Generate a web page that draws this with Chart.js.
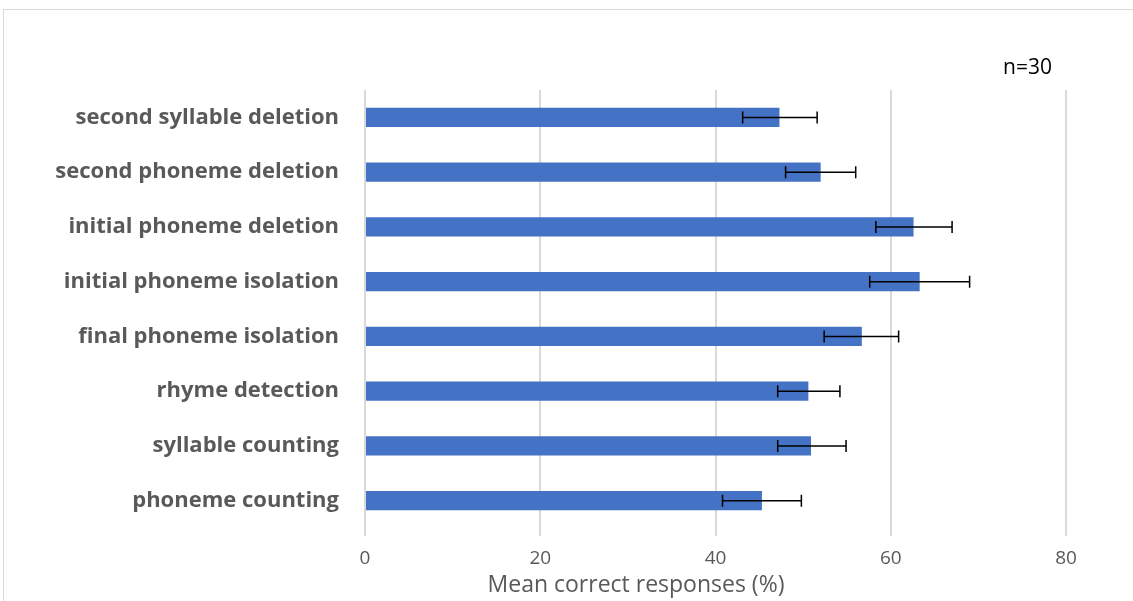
<!DOCTYPE html>
<html>
<head>
<meta charset="utf-8">
<script src="https://cdn.jsdelivr.net/npm/chart.js@4/dist/chart.umd.min.js"></script>
<style>
  html, body { margin: 0; padding: 0; background: #fff; }
  #wrap { width: 1133px; height: 601px; position: relative; }
</style>
</head>
<body>
<div id="wrap"><canvas id="c" width="1133" height="601"></canvas></div>
<script>
// Phonological awareness tasks, mean % correct with error bars
const categories = [
  'second syllable deletion',
  'second phoneme deletion',
  'initial phoneme deletion',
  'initial phoneme isolation',
  'final phoneme isolation',
  'rhyme detection',
  'syllable counting',
  'phoneme counting'
];
const meanCorrect = [47.3, 52.0, 62.6, 63.3, 56.7, 50.6, 50.9, 45.3];
const errMinus    = [4.2, 4.0, 4.3, 5.7, 4.3, 3.5, 3.8, 4.5];
const errPlus     = [4.3, 4.0, 4.4, 5.7, 4.2, 3.6, 4.0, 4.5];
const xTicks = [0, 20, 40, 60, 80];
const sampleNote = 'n=30';
const xTitle = 'Mean correct responses (%)';

const GREY = '#595959';
const FONT = '"Open Sans", sans-serif';

// outer frame, error bars, axis title and sample-size note
const extras = {
  id: 'extras',
  beforeDraw(chart) {
    const ctx = chart.ctx;
    ctx.save();
    ctx.fillStyle = '#fff';
    ctx.fillRect(0, 0, chart.width, chart.height);
    ctx.strokeStyle = '#d9d9d9';
    ctx.lineWidth = 1;
    ctx.strokeRect(3.5, 9.5, 1300, 800);
    ctx.restore();
  },
  afterDatasetsDraw(chart) {
    const ctx = chart.ctx;
    const xs = chart.scales.x;
    const meta = chart.getDatasetMeta(0);
    ctx.save();
    ctx.strokeStyle = '#000';
    ctx.lineWidth = 1.5;
    meta.data.forEach((bar, i) => {
      const v = meanCorrect[i];
      const x1 = xs.getPixelForValue(v - errMinus[i]);
      const x2 = xs.getPixelForValue(v + errPlus[i]);
      const y = bar.y;
      ctx.beginPath();
      ctx.moveTo(x1, y); ctx.lineTo(x2, y);
      ctx.moveTo(x1, y - 6); ctx.lineTo(x1, y + 6);
      ctx.moveTo(x2, y - 6); ctx.lineTo(x2, y + 6);
      ctx.stroke();
    });
    ctx.textBaseline = 'middle';
    ctx.textAlign = 'left';
    ctx.fillStyle = '#000';
    ctx.font = '21px ' + FONT;
    ctx.fillText(sampleNote, 1003, 68);
    ctx.textAlign = 'center';
    ctx.fillStyle = GREY;
    ctx.font = '23px ' + FONT;
    ctx.fillText(xTitle, 636, 585);
    ctx.restore();
  }
};

new Chart(document.getElementById('c'), {
  type: 'bar',
  data: {
    labels: categories,
    datasets: [{
      data: meanCorrect,
      backgroundColor: '#4472C4',
      borderWidth: 0,
      categoryPercentage: 1,
      barPercentage: 0.35
    }]
  },
  options: {
    indexAxis: 'y',
    responsive: false,
    animation: false,
    layout: { padding: { top: 90, right: 67, bottom: 0, left: 0 } },
    plugins: { legend: { display: false }, tooltip: { enabled: false } },
    scales: {
      x: {
        min: 0, max: 80,
        afterBuildTicks(scale) { scale.ticks = xTicks.map(v => ({ value: v })); },
        grid: { color: '#d9d9d9', lineWidth: 2, tickLength: 8, drawTicks: true },
        border: { display: false },
        ticks: { color: GREY, font: { family: FONT, size: 19 }, padding: 11 },
        afterFit(scale) { scale.height = 73; }
      },
      y: {
        grid: { display: false },
        border: { display: false },
        ticks: { color: GREY, padding: 18,
                 font: { family: FONT, size: 22, weight: 'bold' } },
        afterFit(scale) { scale.width = 365; }
      }
    }
  },
  plugins: [extras]
});
</script>
</body>
</html>
